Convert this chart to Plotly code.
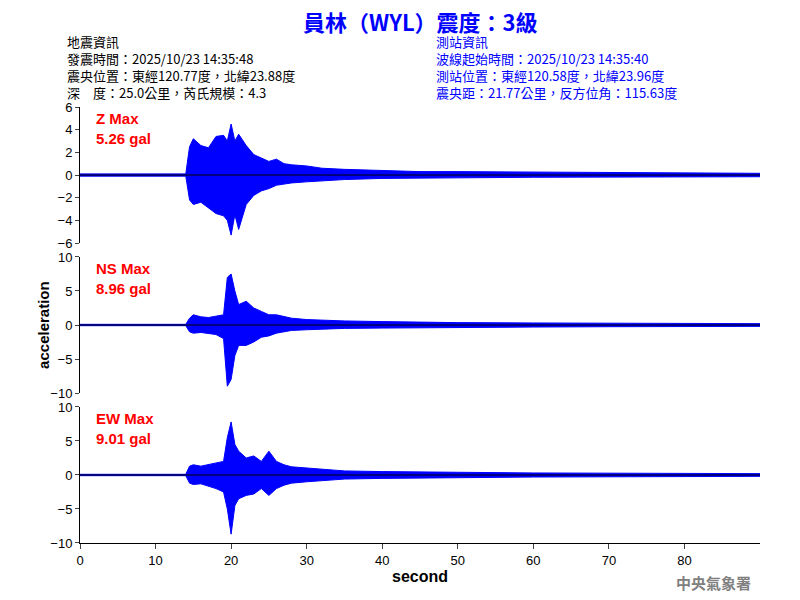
import plotly.graph_objects as go
from plotly.subplots import make_subplots

# envelope of each trace (seconds, gal)
t = [0, 14, 14.5, 15, 16, 17, 18, 19, 19.5, 20, 20.5, 21, 22, 23, 24, 25, 26, 27, 28,
     30, 32, 35, 40, 45, 50, 60, 70, 80, 90]
z_up = [0.1, 0.1, 2.5, 3.2, 2.6, 2.4, 3.4, 3.5, 3.0, 4.5, 3.0, 3.6, 2.6, 1.8, 1.5, 1.2, 1.4, 1.0, 0.9,
        0.8, 0.6, 0.5, 0.4, 0.3, 0.3, 0.25, 0.2, 0.2, 0.15]
z_lo = [-0.1, -0.1, -2.2, -2.6, -2.4, -2.9, -3.4, -3.6, -4.0, -5.3, -3.5, -4.8, -2.6, -1.8, -1.4, -1.2, -0.9, -0.8, -0.7,
        -0.6, -0.5, -0.4, -0.3, -0.3, -0.25, -0.2, -0.2, -0.15, -0.15]
ns_up = [0.1, 0.1, 1, 1.5, 1.2, 1.1, 1.3, 1.5, 7.0, 7.5, 5.0, 3.0, 3.5, 2.5, 2.0, 1.5, 1.5, 1.2, 1.0,
         0.8, 0.7, 0.6, 0.5, 0.4, 0.35, 0.3, 0.25, 0.2, 0.2]
ns_lo = [-0.1, -0.1, -1, -1.2, -1.1, -1.3, -1.4, -2.0, -9.0, -8.0, -4.5, -3.0, -3.0, -2.5, -1.8, -1.6, -1.2, -1.0, -0.8,
         -0.7, -0.6, -0.5, -0.45, -0.4, -0.3, -0.3, -0.25, -0.2, -0.2]
ew_up = [0.1, 0.1, 1.3, 1.5, 1.3, 1.5, 1.8, 2.0, 5.5, 7.8, 4.5, 3.5, 2.5, 2.8, 2.0, 3.5, 2.0, 1.5, 1.2,
         1.0, 0.8, 0.6, 0.5, 0.4, 0.4, 0.3, 0.3, 0.2, 0.2]
ew_lo = [-0.1, -0.1, -1.2, -1.4, -1.3, -1.6, -2.0, -2.5, -5.0, -8.7, -4.5, -3.5, -3.0, -2.8, -2.0, -3.0, -2.0, -1.5, -1.2,
         -1.0, -0.8, -0.6, -0.5, -0.4, -0.4, -0.3, -0.3, -0.2, -0.2]

labels = ["<b>Z Max<br>5.26 gal</b>", "<b>NS Max<br>8.96 gal</b>", "<b>EW Max<br>9.01 gal</b>"]
ranges = [[-6, 6], [-10, 10], [-10, 10]]
ticks = [[-6, -4, -2, 0, 2, 4, 6], [-10, -5, 0, 5, 10], [-10, -5, 0, 5, 10]]

fig = make_subplots(rows=3, cols=1, vertical_spacing=0.032)
for i, (up, lo) in enumerate([(z_up, z_lo), (ns_up, ns_lo), (ew_up, ew_lo)]):
    r = i + 1
    fig.add_trace(go.Scatter(x=t, y=lo, mode="lines", line=dict(color="blue", width=1)), row=r, col=1)
    fig.add_trace(go.Scatter(x=t, y=up, mode="lines", line=dict(color="blue", width=1),
                             fill="tonexty", fillcolor="blue"), row=r, col=1)
    fig.add_trace(go.Scatter(x=[0, 90], y=[0, 0], mode="lines", line=dict(color="black", width=1)), row=r, col=1)
    fig.update_yaxes(range=ranges[i], tickvals=ticks[i], showline=True, linecolor="black",
                     ticks="outside", ticklen=4, showgrid=False, zeroline=False, row=r, col=1)
    fig.update_xaxes(range=[0, 90], showgrid=False, zeroline=False, showticklabels=(r == 3),
                     showline=(r == 3), linecolor="black", ticks="outside" if r == 3 else "",
                     tickvals=[0, 10, 20, 30, 40, 50, 60, 70, 80], row=r, col=1)
    fig.add_annotation(x=0.02, y=0.99, xref=f"x{'' if r == 1 else r} domain",
                       yref=f"y{'' if r == 1 else r} domain", text=labels[i], showarrow=False,
                       xanchor="left", yanchor="top", align="left",
                       font=dict(color="red", size=15, family="Liberation Sans"))

fig.update_xaxes(title_text="<b>second</b>", title_standoff=4, row=3, col=1)
fig.add_annotation(x=-0.07, y=0.5, xref="paper", yref="paper", text="<b>acceleration</b>", textangle=-90,
                   showarrow=False, font=dict(size=15))

cjk = "Noto Sans CJK TC"
fig.add_annotation(x=0.5, y=1.0, xref="paper", yref="paper", yshift=86, yanchor="middle", showarrow=False,
                   text="<b>員林（WYL）震度：3級</b>", font=dict(color="blue", size=22, family=cjk))
left = "地震資訊<br>發震時間：2025/10/23 14:35:48<br>震央位置：東經120.77度，北緯23.88度<br>深　度：25.0公里，芮氏規模：4.3"
right = "測站資訊<br>波線起始時間：2025/10/23 14:35:40<br>測站位置：東經120.58度，北緯23.96度<br>震央距：21.77公里，反方位角：115.63度"
fig.add_annotation(x=-0.022, y=1.0, xref="paper", yref="paper", yshift=3, showarrow=False, xanchor="left",
                   yanchor="bottom", align="left", text=left, font=dict(color="black", size=13, family=cjk))
fig.add_annotation(x=0.52, y=1.0, xref="paper", yref="paper", yshift=3, showarrow=False, xanchor="left",
                   yanchor="bottom", align="left", text=right, font=dict(color="blue", size=13, family=cjk))
fig.add_annotation(x=0.99, y=0, xref="paper", yref="paper", yshift=-52, showarrow=False, xanchor="right",
                   text="<b>中央氣象署</b>", font=dict(color="gray", size=15, family=cjk))

fig.update_layout(width=800, height=600, showlegend=False, plot_bgcolor="white", paper_bgcolor="white",
                  margin=dict(l=72, r=48, t=99, b=65), font=dict(family="Liberation Sans", size=13, color="black"))
fig.write_html("out.html")
